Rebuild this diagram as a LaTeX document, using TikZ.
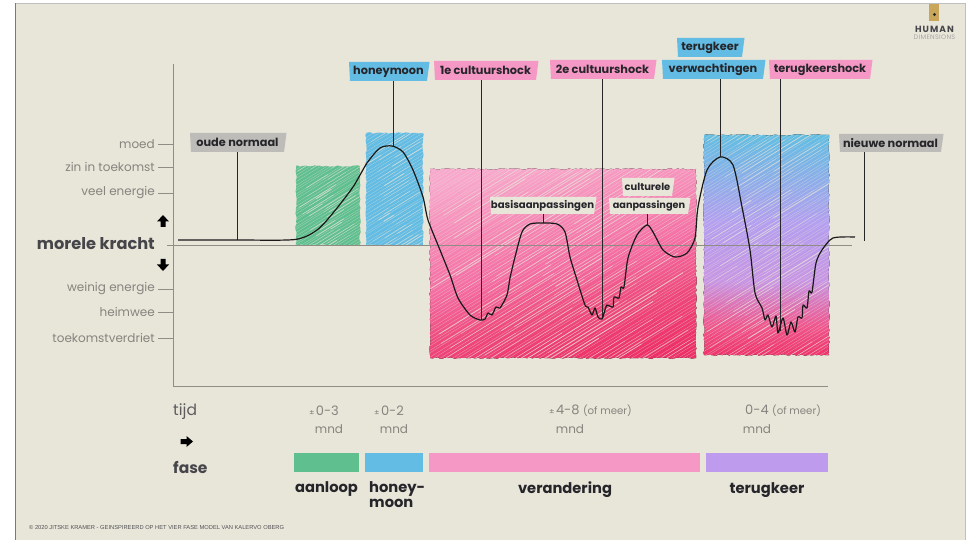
\documentclass[tikz,border=0pt]{standalone}
\usepackage{fontspec}
\setmainfont{Poppins}
\newfontfamily\arialfont{Liberation Sans}
\usetikzlibrary{decorations.pathmorphing,calc}
\definecolor{paper}{HTML}{E8E5D9}
\definecolor{edge}{HTML}{7A7A76}
\definecolor{axisgrey}{HTML}{8E8D86}
\definecolor{txtgrey}{HTML}{85847E}
\definecolor{ink}{HTML}{25252A}
\definecolor{cgreen}{HTML}{5FBF8F}
\definecolor{cblue}{HTML}{62BCE4}
\definecolor{cpink}{HTML}{F598C5}
\definecolor{cpurple}{HTML}{BF9BEE}
\definecolor{cgrey}{HTML}{BDBCB8}
\definecolor{cred}{HTML}{EE3068}
\definecolor{gold}{HTML}{C9A65A}
\definecolor{pnkA}{HTML}{F8A8CC}
\definecolor{pnkB}{HTML}{F56EA4}
\definecolor{pnkC}{HTML}{EF4A7E}
\definecolor{tkA}{HTML}{5FBFE3}
\definecolor{tkB}{HTML}{B49FF0}
\definecolor{tkC}{HTML}{C896E4}
\definecolor{tkD}{HTML}{F0558C}
\pgfdeclareverticalshading{pinkfall}{100bp}{color(0bp)=(cred); color(25bp)=(cred); color(38bp)=(pnkC); color(50bp)=(pnkB); color(75bp)=(pnkA); color(100bp)=(pnkA)}
\pgfdeclareverticalshading{tkfall}{100bp}{color(0bp)=(cred); color(25bp)=(cred); color(32bp)=(tkD); color(42bp)=(tkC); color(55bp)=(tkB); color(75bp)=(tkA); color(100bp)=(tkA)}
\tikzset{
  lab/.style={font=\fontsize{11.3}{13}\selectfont\bfseries,text=ink,inner sep=0pt,anchor=center},
  leader/.style={draw=ink,line width=.9pt},
  tick/.style={draw=axisgrey,line width=.6pt},
  level/.style={font=\fontsize{12}{14}\selectfont,text=txtgrey,anchor=east,inner sep=0pt},
  dur/.style={font=\fontsize{12}{14}\selectfont,text=txtgrey,inner sep=0pt},
  phase/.style={font=\fontsize{14.7}{17}\selectfont\bfseries,text=ink,inner sep=0pt},
}
% name, x0,y0,x1,y1, colour, text
\newcommand\labbox[7]{%
  \fill[#6] (#2,#3) -- (#4+1.5,#3) -- (#4-1,#5) -- (#2+1,#5) -- cycle;
  \node[lab,minimum width=#4pt-#2pt,minimum height=#5pt-#3pt] (#1) at ({(#2+#4)/2},{(#3+#5)/2}) {#7};
}
% x0,y0,x1,y1, shading options, gap
\newcommand\hatchbox[6]{%
  \begin{scope}
    \clip[decorate,decoration={random steps,segment length=2.5pt,amplitude=.7pt}] (#1,#2) rectangle (#3,#4);
    \fill[#5] (#1-3,#2-3) rectangle (#3+3,#4+3);
    \pgfmathsetmacro\hw{#3-#1}
    \pgfmathsetmacro\hh{#4-#2+.62*\hw}
    \pgfmathsetmacro\hn{int(\hh/#6)}
    \foreach \k in {0,...,\hn}{
      \pgfmathsetmacro\hy{#2+\k*#6+rnd*1.5}
      \pgfmathsetmacro\hs{rnd*.6}
      \pgfmathsetmacro\he{\hs+.15+rnd*.5}
      \pgfmathsetmacro\hlw{.35+rnd*.7}
      \pgfmathsetmacro\hop{.3+rnd*.45}
      \draw[paper,line width=.35pt,opacity=.5] (#1,\hy) -- (#3,\hy-.62*\hw);
      \draw[paper,line width=\hlw pt,opacity=\hop] ({#1+\hs*\hw},{\hy-.62*\hs*\hw}) -- ({#1+\he*\hw},{\hy-.62*\he*\hw});
    }
  \end{scope}
}
\begin{document}
\begin{tikzpicture}[x=1pt,y=-1pt]
\useasboundingbox (0,0) rectangle (970,540);
\fill[white] (0,0) rectangle (970,540);
\fill[paper] (15.5,3.5) rectangle (965,540);
\draw[edge,line width=.8pt] (15.5,540) -- (15.5,3.5);
\draw[black!25,line width=.6pt] (15.5,3.5) -- (965,3.5);
\draw[black!25,line width=.6pt] (965,3.5) -- (965,540);
\pgfmathsetseed{7}
% hatched colour blocks
\hatchbox{296}{166}{360}{245}{cgreen}{3}
\hatchbox{366}{133}{423}{245}{cblue}{3.5}
\hatchbox{430}{169}{696}{358}{shading=pinkfall,shading angle=12}{3.6}
\hatchbox{704}{135}{829}{355}{shading=tkfall}{3.6}
% axes
\draw[axisgrey,line width=.8pt] (173,64) -- (173,386) -- (828,386);
\draw[axisgrey,line width=.6pt] (167,245) -- (852,245);
% levels
\foreach \nm/\ty/\tx in {lmoed/144/moed,lzin/167/zin in toekomst,lveel/193/veel energie,lwein/289/weinig energie,lheim/312/heimwee,ltoek/338/toekomstverdriet}{
  \node[level] (\nm) at (155,\ty) {\tx};
  \draw[tick] ($(\nm.east)+(3,0)$) -- (173,\ty);
}
\node[anchor=east,inner sep=0pt,text=ink!85,font=\fontsize{16.2}{18}\selectfont\bfseries] (mk) at (155,244) {morele kracht};
% small block arrows
\fill[black] (163,215) -- (169,221.5) -- (165.5,221.5) -- (165.5,227) -- (160.5,227) -- (160.5,221.5) -- (157,221.5) -- cycle;
\fill[black] (163,271) -- (169,264.5) -- (165.5,264.5) -- (165.5,259) -- (160.5,259) -- (160.5,264.5) -- (157,264.5) -- cycle;
\fill[black] (193,441.5) -- (186.5,436) -- (186.5,439) -- (180.5,439) -- (180.5,444) -- (186.5,444) -- (186.5,447) -- cycle;
% curve anchors
\coordinate (pOud) at (237,240);
\coordinate (pHon) at (393,146);
\coordinate (pEen) at (481,320);
\coordinate (pBas) at (543,223);
\coordinate (pTwe) at (602,319);
\coordinate (pCul) at (647,225);
\coordinate (pVer) at (720,157);
\coordinate (pTer) at (780,331);
\coordinate (pNie) at (864,238);
% labels
\labbox{oude}{190}{133}{285}{152}{cgrey}{oude normaal}
\labbox{hon}{349}{62}{428}{81}{cblue}{honeymoon}
\labbox{een}{434}{61}{537}{80}{cpink}{1e cultuurshock}
\labbox{twe}{550}{60}{655}{79}{cpink}{2e cultuurshock}
\labbox{tgk}{677}{38}{743}{57}{cblue}{terugkeer}
\labbox{ver}{662}{60}{764}{79}{cblue}{verwachtingen}
\labbox{tsh}{769}{60}{871}{79}{cpink}{terugkeershock}
\labbox{nie}{839}{134}{942}{152}{cgrey}{nieuwe normaal}
\labbox{bas}{490}{197}{595}{214}{paper}{\fontsize{10.1}{12}\selectfont basisaanpassingen}
\labbox{cu1}{622}{178}{673}{196}{paper}{\fontsize{9.9}{12}\selectfont culturele}
\labbox{cu2}{609}{198}{689}{214}{paper}{\fontsize{9.7}{12}\selectfont aanpassingen}
% leaders
\draw[leader] (oude.south -| pOud) -- (pOud);
\draw[leader] (hon.south -| pHon) -- (pHon);
\draw[leader] (een.south -| pEen) -- (pEen);
\draw[leader] (bas.south -| pBas) -- (pBas);
\draw[leader] (twe.south -| pTwe) -- (pTwe);
\draw[leader] (cu2.south -| pCul) -- (pCul);
\draw[leader] (ver.south -| pVer) -- (pVer);
\draw[leader] (tsh.south -| pTer) -- (pTer);
\draw[leader] (nie.south -| pNie) -- ($(pNie)+(0,3)$);
% curve
\draw[black!90,line width=1.2pt,line join=round] plot[smooth,tension=.45] coordinates {
 (178,240)(237,240)(295,239.5)(317,230)(333,213)(353,187)(367,163)(380,148)(392,146)(403,152)(413,170)(423,197)(428,220)(440,250)(450,275)(458,298)(470,315)(480,320)(485,319)(488,313)(492,315)(496,307)(500,308)(507,295)(510,278)(515,257)(522,232)(530,224)(543,223)(557,224)(565,232)(570,257)(577,280)(585,305)(588,307)(592,315)(595,308)(598,317)(602,319)(605,310)(607,305)(613,307)(614,297)(619,298)(621,287)(624,287)(628,258)(637,235)(647,225)(653,232)(663,250)(675,257)(687,253)(695,238)(698,207)(707,170)(720,157)(733,165)(742,207)(750,250)(755,293)(762,308)(765,320)(768,315)(772,327)(776,316)(778,333)(783,318)(787,335)(791,322)(795,332)(798,317)(802,318)(803,305)(807,308)(809,291)(812,292)(816,263)(822,250)(833,238)(855,237)};
% time
\node[font=\fontsize{15.5}{18}\selectfont,text=ink!75,inner sep=0pt,anchor=west] (tijd) at (173,412) {tijd};
\node[font=\fontsize{15.5}{18}\selectfont\bfseries,text=ink!85,inner sep=0pt,anchor=west] (fase) at (173,467) {fase};
\node[dur] (d1) at (324,411) {\fontsize{8}{9}\selectfont ±\,\fontsize{13}{15}\selectfont 0-3};
\node[dur] (m1) at (329,429) {mnd};
\node[dur] (d2) at (389,411) {\fontsize{8}{9}\selectfont ±\,\fontsize{13}{15}\selectfont 0-2};
\node[dur] (m2) at (394,429) {mnd};
\node[dur,anchor=west] (d3) at (549,411) {\fontsize{8}{9}\selectfont ±\,\fontsize{13}{15}\selectfont 4-8 \fontsize{10.2}{12}\selectfont(of meer)};
\node[dur] (m3) at (570,429) {mnd};
\node[dur,anchor=west] (d4) at (745,411) {\fontsize{13}{15}\selectfont 0-4 \fontsize{10.2}{12}\selectfont(of meer)};
\node[dur] (m4) at (757,429) {mnd};
% phase bars
\fill[cgreen] (294,453) rectangle (359,472);
\fill[cblue] (365,453) rectangle (423,472);
\fill[cpink] (429,453) rectangle (700,472);
\fill[cpurple] (706,453) rectangle (828,472);
\node[phase] (p1) at (326.5,489) {aanloop};
\node[phase,align=left,font=\fontsize{14.7}{15.5}\selectfont\bfseries,anchor=north west] (p2) at (369,481) {honey-\\moon};
\node[phase] (p3) at (565,490) {verandering};
\node[phase] (p4) at (767,490) {terugkeer};
% credit
\node[font=\arialfont\fontsize{5.75}{7}\selectfont,text=ink!80,anchor=west,inner sep=0pt] (cr) at (29,527.5) {© 2020 JITSKE KRAMER - GEINSPIREERD OP HET VIER FASE MODEL VAN KALERVO OBERG};
% logo
\fill[gold] (929,4) rectangle (939,21);
\fill[ink] (934.5,14.5) circle (1.6);
\node[font=\fontsize{9}{11}\selectfont\bfseries\addfontfeatures{LetterSpace=12},text=ink!85,inner sep=0pt] (hum) at (934.5,29) {HUMAN};
\node[font=\fontsize{6.5}{8}\selectfont\addfontfeatures{LetterSpace=5},text=black!35,inner sep=0pt] (dim) at (934.5,37) {DIMENSIONS};
\end{tikzpicture}
\end{document}
